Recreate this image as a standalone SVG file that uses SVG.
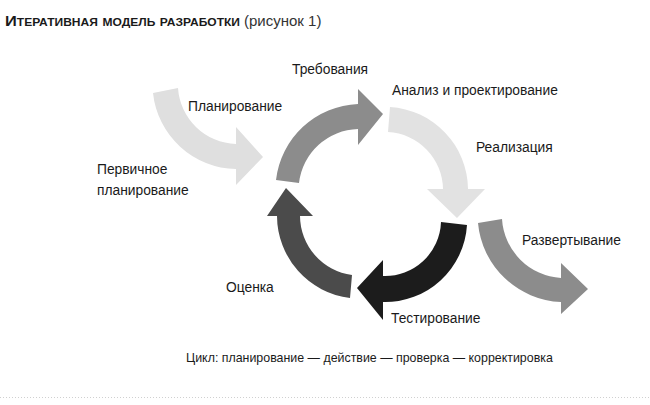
<svg xmlns="http://www.w3.org/2000/svg" width="650" height="405" viewBox="0 0 650 405">
<style>
.t{font-family:"Liberation Sans","DejaVu Sans",sans-serif;font-size:13.8px;fill:#1a1a1a}
.cap{font-size:12.4px}
</style>
<rect width="650" height="405" fill="#ffffff"/>
<g id="title">
<text x="5" y="26" class="t" style="font-size:15px"><tspan font-weight="bold" font-variant="small-caps" textLength="235" lengthAdjust="spacingAndGlyphs">Итеративная модель разработки</tspan><tspan dx="4" font-weight="normal" fill="#333">(рисунок 1)</tspan></text>
</g>
<g id="connectors">
<path id="a-plan" d="M153,93 A85,85 0 0 0 236,169 L236,185 L263,157 L236,127 L236,144 A60,60 0 0 1 178,88 Z" fill="#dfdfdf"/>
<path id="a-req" d="M276,180 A86,86 0 0 1 358,104 L358,89 L383,114 L358,145 L358,129 A61,61 0 0 0 299,183 Z" fill="#8c8c8c"/>
<path id="a-ana" d="M390,107 A83,83 0 0 1 468,189 L485,189 L457,218 L427,189 L443,189 A58,58 0 0 0 388,132 Z" fill="#e2e2e2"/>
<path id="a-test" d="M441,222 L467,225 A82,82 0 0 1 383,302 L383,320 L357,288 L383,260 L383,276 A56,56 0 0 0 441,222 Z" fill="#1c1c1c"/>
<path id="a-eval" d="M352,275 L350,298 A83,83 0 0 1 277,216 L267,216 L286,188 L313,216 L300,216 A60,60 0 0 0 352,275 Z" fill="#4b4b4b"/>
<path id="a-dep" d="M478,223 A87,87 0 0 0 561,302 L561,314 L588,289 L561,263 L561,278 A63,63 0 0 1 502,219 Z" fill="#8c8c8c"/>
</g>
<g id="n-req"><text x="292" y="74" class="t">Требования</text></g>
<g id="n-plan"><text x="188" y="111" class="t">Планирование</text></g>
<g id="n-ana"><text x="392" y="95" class="t">Анализ и проектирование</text></g>
<g id="n-real"><text x="476" y="152" class="t">Реализация</text></g>
<g id="n-init"><text x="97" y="174" class="t">Первичное</text><text x="97" y="195" class="t">планирование</text></g>
<g id="n-dep"><text x="522" y="245" class="t">Развертывание</text></g>
<g id="n-eval"><text x="226" y="292" class="t">Оценка</text></g>
<g id="n-test"><text x="391" y="323" class="t">Тестирование</text></g>
<g id="caption"><text x="186" y="362" class="t cap">Цикл: планирование — действие — проверка — корректировка</text></g>
<line x1="0" y1="397.5" x2="650" y2="397.5" stroke="#d0d0d0" stroke-width="1" stroke-dasharray="1,2"/>
</svg>
